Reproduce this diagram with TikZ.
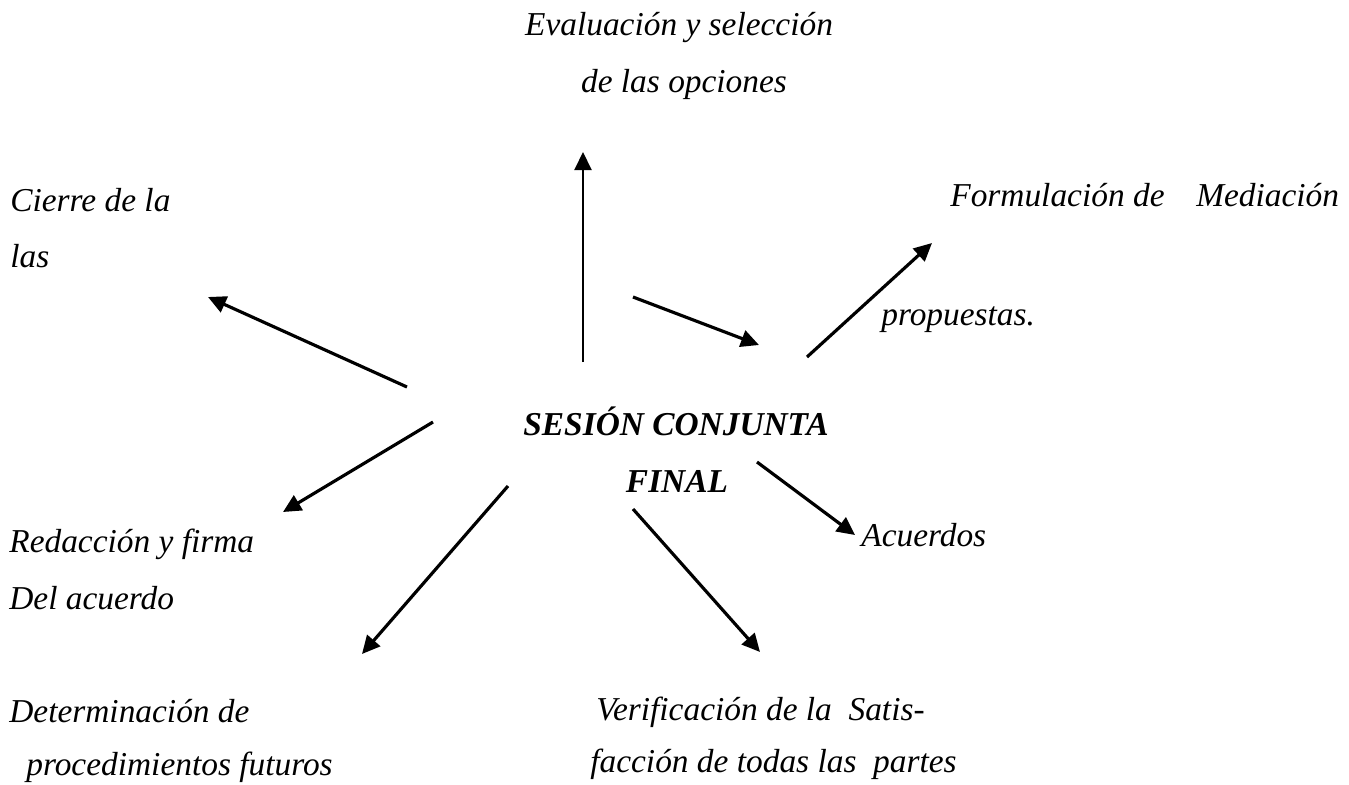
\documentclass[tikz,border=0pt]{standalone}
\usepackage{fontspec}
\setmainfont{Liberation Serif}
\usetikzlibrary{arrows.meta}
\begin{document}
\begin{tikzpicture}[x=0.2mm, y=-0.2mm,
  txt/.style={anchor=base west, inner sep=0pt, font=\fontsize{19}{23}\selectfont\itshape},
  hub/.style={anchor=base, inner sep=0pt, font=\fontsize{19}{23}\selectfont\bfseries\itshape},
  arr/.style={line width=1.8pt, -{Triangle[length=3.6mm,width=3.4mm]}}]
  \useasboundingbox (0,0) rectangle (1349,784);
  % centro
  \node[hub] (sesion) at (676,435) {SESIÓN CONJUNTA};
  \node[hub] (final) at (677,492) {FINAL};
  % arriba
  \node[txt, anchor=base] (eval1) at (679,35) {Evaluación y selección};
  \node[txt, anchor=base] (eval2) at (684,92) {de las opciones};
  % izquierda
  \node[txt] (cierre1) at (10,211) {Cierre de la};
  \node[txt] (cierre2) at (10,267) {las};
  \node[txt] (redac1) at (9,552) {Redacción y firma};
  \node[txt] (redac2) at (9,609) {Del acuerdo};
  \node[txt] (determ1) at (9,722) {Determinación de};
  \node[txt] (determ2) at (26,775) {procedimientos futuros};
  % derecha
  \node[txt] (formul) at (950,206) {Formulación de\hspace{0.95em}Mediación};
  \node[txt] (propuestas) at (881,325) {propuestas.};
  \node[txt] (acuerdos) at (861,546) {Acuerdos};
  \node[txt] (verif1) at (596,720) {Verificación de la~~Satis-};
  \node[txt] (verif2) at (590,772) {facción de todas las~~partes};
  % flechas
  \coordinate (evalTail) at (583,362);   \coordinate (evalTip) at (583,152);
  \coordinate (propTail) at (633,297);   \coordinate (propTip) at (759,345);
  \coordinate (formTail) at (807,357);   \coordinate (formTip) at (932,243);
  \coordinate (cierTail) at (407,387);   \coordinate (cierTip) at (208,297);
  \coordinate (redTail) at (433,422);    \coordinate (redTip) at (283,512);
  \coordinate (detTail) at (508,486);    \coordinate (detTip) at (362,654);
  \coordinate (acuTail) at (757,462);    \coordinate (acuTip) at (855,535);
  \coordinate (verTail) at (633,509);    \coordinate (verTip) at (760,652);
  \draw[arr, line width=1.2pt] (evalTail) -- (evalTip);
  \draw[arr] (propTail) -- (propTip);
  \draw[arr] (formTail) -- (formTip);
  \draw[arr] (cierTail) -- (cierTip);
  \draw[arr] (redTail) -- (redTip);
  \draw[arr] (detTail) -- (detTip);
  \draw[arr] (acuTail) -- (acuTip);
  \draw[arr] (verTail) -- (verTip);
\end{tikzpicture}
\end{document}
